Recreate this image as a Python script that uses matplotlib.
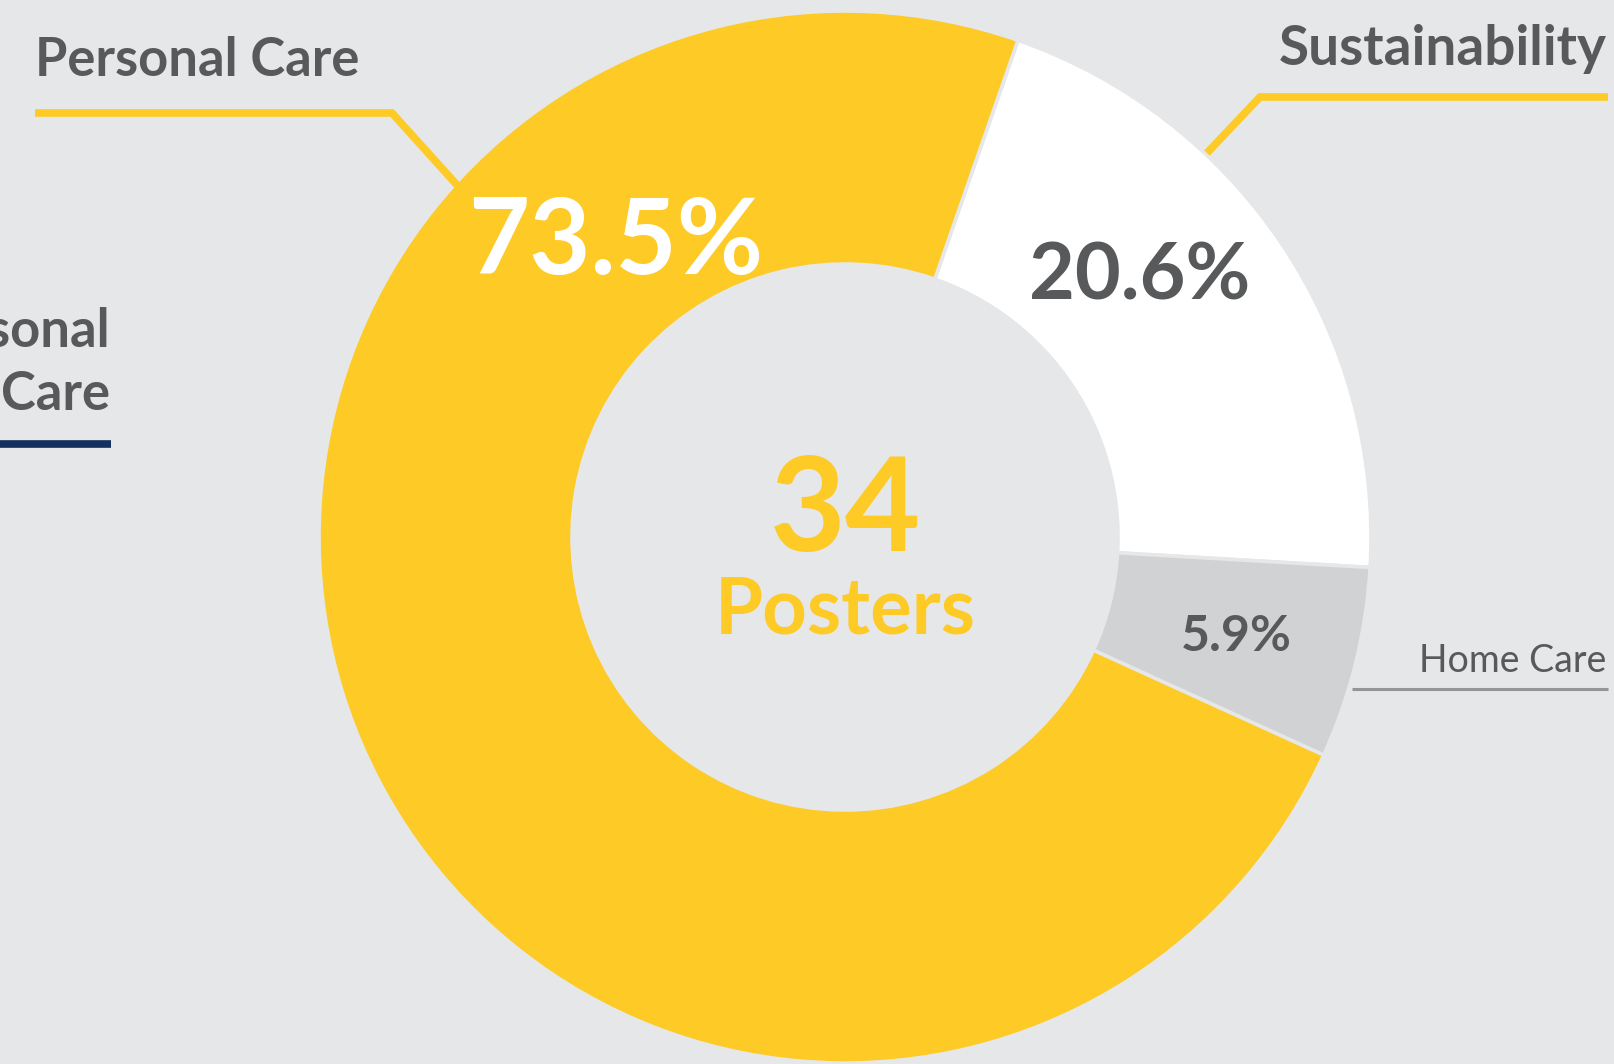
import numpy as np
import matplotlib
matplotlib.use('Agg')
import matplotlib.pyplot as plt

# data
labels = ['Sustainability', 'Home Care', 'Personal Care']
counts = [7, 2, 25]
total = sum(counts)
pct_labels = ['%.1f%%' % (100 * c / total) for c in counts]

W, H = 1615, 1064
BG = '#e6e7e9'
YELLOW = '#fdca26'
DARK = '#58595b'
colors = ['#ffffff', '#d1d2d4', YELLOW]

plt.rcParams['font.family'] = ['Lato', 'DejaVu Sans']

fig = plt.figure(figsize=(W / 100, H / 100), dpi=100, facecolor=BG)
ax = fig.add_axes([0, 0, 1, 1])
ax.set_facecolor(BG)


def Y(py):
    # pixel row -> data y (y up)
    return H - py


cx, cy = 845, Y(537)
R, ring = 526, 253
ax.pie(counts, colors=colors, startangle=70.8, counterclock=False,
       center=(cx, cy), radius=R,
       wedgeprops=dict(width=ring, edgecolor=BG, linewidth=2.6))

ax.set_xlim(0, W)
ax.set_ylim(0, H)
ax.set_aspect('equal')
ax.axis('off')

# percentages in the ring
ax.text(616, Y(274), pct_labels[2], color='white', fontsize=76,
        fontweight='bold', ha='center', va='baseline')
ax.text(1140, Y(299), pct_labels[0], color=DARK, fontsize=57,
        fontweight='bold', ha='center', va='baseline')
ax.text(1236, Y(651), pct_labels[1], color=DARK, fontsize=36,
        fontweight='bold', ha='center', va='baseline')

# center total
ax.text(cx, Y(551), str(total), color=YELLOW, fontsize=94,
        fontweight='bold', ha='center', va='baseline')
ax.text(cx, Y(633), 'Posters', color=YELLOW, fontsize=56,
        fontweight='bold', ha='center', va='baseline')

# callouts
ax.text(35, Y(76), labels[2], color=DARK, fontsize=37.8, fontweight='bold',
        ha='left', va='baseline')
ax.plot([35, 392, 457], [Y(113), Y(113), Y(185)], color=YELLOW, lw=5.5,
        solid_capstyle='butt', solid_joinstyle='miter')

ax.text(1607, Y(65), labels[0], color=DARK, fontsize=39.5, fontweight='bold',
        ha='right', va='baseline')
ax.plot([1207, 1260, 1608], [Y(153), Y(97), Y(97)], color=YELLOW, lw=5.5,
        solid_capstyle='butt', solid_joinstyle='miter')

ax.text(1606, Y(672), labels[1], color=DARK, fontsize=27,
        ha='right', va='baseline')
ax.plot([1352, 1608], [Y(689), Y(689)], color='#939598', lw=2.2,
        solid_capstyle='butt')

# neighbouring chart label, cut off at the left edge
ax.text(110, Y(347), 'Personal', color=DARK, fontsize=37.8, fontweight='bold',
        ha='right', va='baseline')
ax.text(110, Y(410), 'Care', color=DARK, fontsize=37.8, fontweight='bold',
        ha='right', va='baseline')
ax.plot([0, 111], [Y(444), Y(444)], color='#13305e', lw=5.5,
        solid_capstyle='butt')

fig.savefig('out.png', dpi=100, facecolor=BG)
